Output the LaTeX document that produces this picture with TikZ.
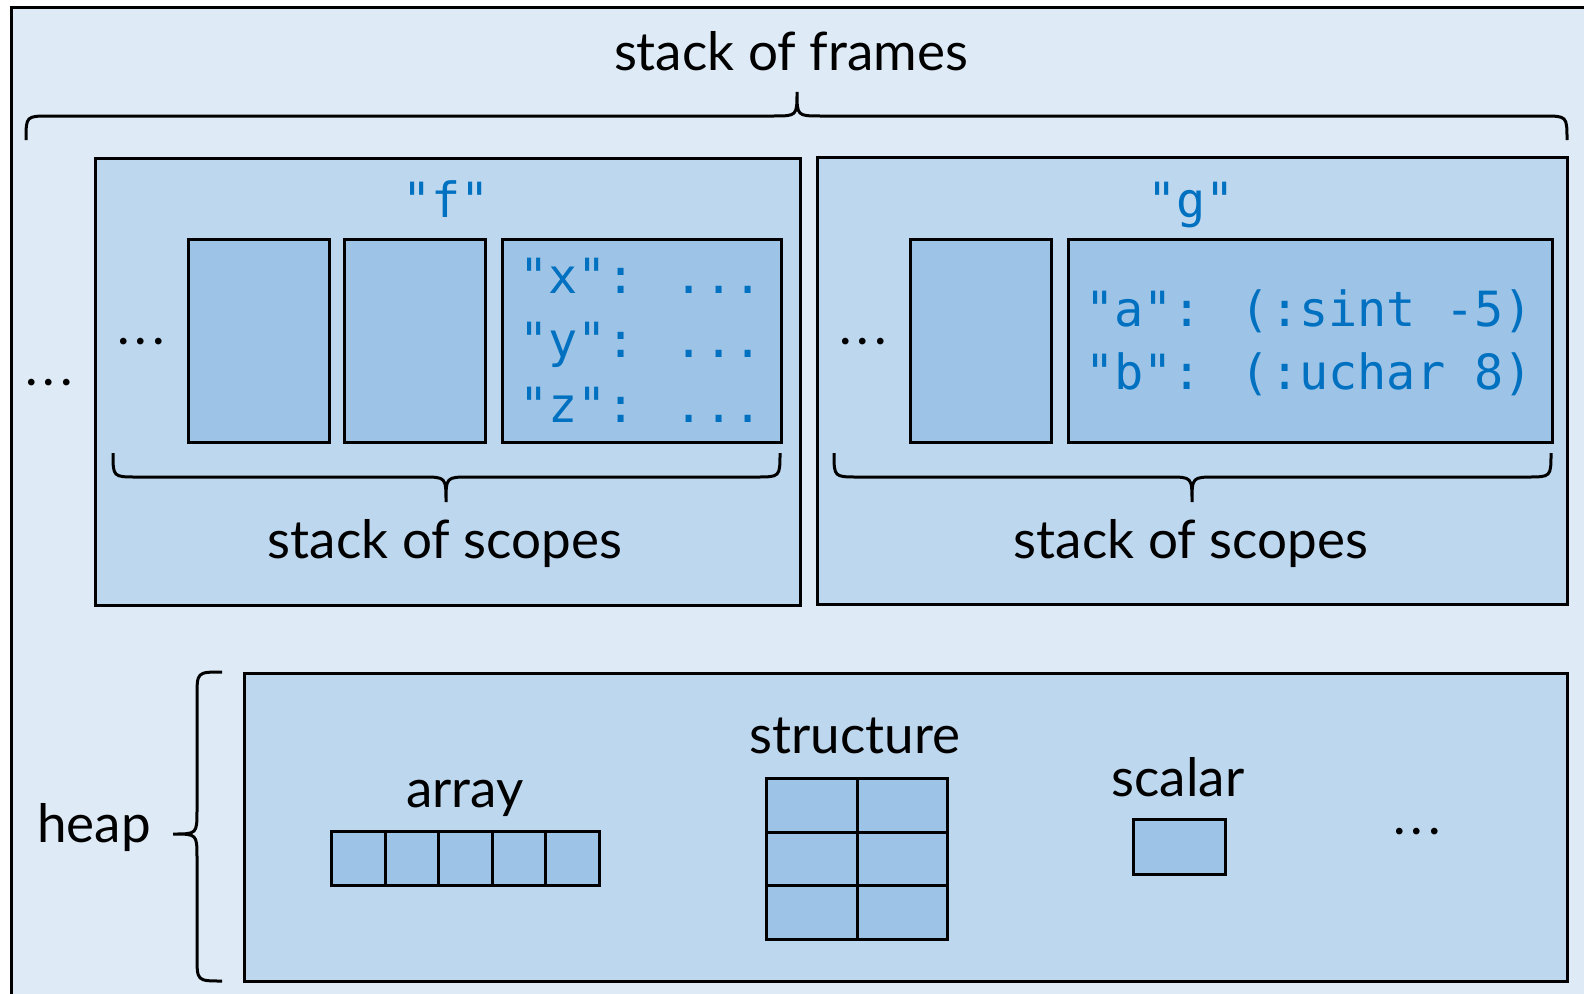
\documentclass[tikz,border=0pt]{standalone}
\usepackage{fontspec}
\setmainfont{Lato}
\newfontfamily\codefont{DejaVu Sans Mono}
\definecolor{bgc}{HTML}{DEEBF7}
\definecolor{framec}{HTML}{BDD7EE}
\definecolor{boxc}{HTML}{9DC3E6}
\definecolor{txtb}{HTML}{0070C0}
\newcommand{\mydots}{.\kern5pt.\kern5pt.}
\begin{document}
\begin{tikzpicture}[x=1pt,y=-1pt,
  framebox/.style={draw=black, fill=framec, line width=3pt, inner sep=0pt, anchor=north west},
  cellbox/.style={draw=black, fill=boxc, line width=3pt, inner sep=0pt, anchor=north west},
  lbl/.style={font=\fontsize{53}{64}\selectfont, text=black, inner sep=0pt, anchor=base},
  code/.style={font=\codefont\fontsize{48.5}{60}\selectfont, text=txtb, inner sep=0pt, anchor=base},
  codeline/.style={font=\codefont\fontsize{48.5}{60}\selectfont, text=txtb, inner sep=0pt, anchor=base west},
  bracepath/.style={draw=black, line width=3pt}]
\useasboundingbox (0,0) rectangle (1584,993);
\clip (0,0) rectangle (1584,993);
\fill[white] (0,0) rectangle (1584,993);
% outer area
\node[draw=black, fill=bgc, line width=3pt, inner sep=0pt, anchor=north west,
      minimum width=1700pt, minimum height=1100pt] (outer) at (10,6) {};
% top brace and label
\node[lbl] (sof) at (791,70) {stack of frames};
\draw[bracepath] (26,140) .. controls (26,116) .. (50,116) -- (773,116)
  .. controls (797,116) .. (797,92) .. controls (797,116) .. (821,116)
  -- (1543,116) .. controls (1567,116) .. (1567,140);
\node[lbl] (dots0) at (49,385) {\mydots};
% frame f
\node[framebox, minimum width=705pt, minimum height=447pt] (fF) at (94,157) {};
\node[code] (fname) at (446,217) {"f"};
\node[lbl] (fdots) at (141,344) {\mydots};
\node[cellbox, minimum width=141pt, minimum height=203pt] (f1) at (187,238) {};
\node[cellbox, minimum width=141pt, minimum height=203pt] (f2) at (343,238) {};
\node[cellbox, minimum width=279pt, minimum height=203pt] (f3) at (501,238) {};
\node[codeline] (fx) at (519,293) {"x": ...};
\node[codeline] (fy) at (519,357) {"y": ...};
\node[codeline] (fz) at (519,422) {"z": ...};
\draw[bracepath] (113,453) .. controls (113,477) .. (137,477) -- (422,477)
  .. controls (446,477) .. (446,502) .. controls (446,477) .. (470,477)
  -- (756,477) .. controls (780,477) .. (780,453);
\node[lbl] (fsos) at (445,558) {stack of scopes};
% frame g
\node[framebox, minimum width=750pt, minimum height=447pt] (gF) at (816,156) {};
\node[code] (gname) at (1191,217) {"g"};
\node[lbl] (gdots) at (863,344) {\mydots};
\node[cellbox, minimum width=141pt, minimum height=203pt] (g1) at (909,238) {};
\node[cellbox, minimum width=484pt, minimum height=203pt] (g2) at (1067,238) {};
\node[codeline] (ga) at (1085,326) {"a": (:sint -5)};
\node[codeline] (gb) at (1085,389) {"b": (:uchar 8)};
\draw[bracepath] (834,453) .. controls (834,477) .. (858,477) -- (1168,477)
  .. controls (1192,477) .. (1192,502) .. controls (1192,477) .. (1216,477)
  -- (1527,477) .. controls (1551,477) .. (1551,453);
\node[lbl] (gsos) at (1191,558) {stack of scopes};
% heap
\node[lbl] (heapl) at (94,842) {heap};
\draw[bracepath] (222,672) .. controls (197,672) .. (197,697) -- (197,810)
  .. controls (197,834) .. (173,834) .. controls (197,834) .. (197,858)
  -- (197,956) .. controls (197,981) .. (222,981);
\node[framebox, minimum width=1323pt, minimum height=308pt] (heap) at (243,672) {};
% array
\node[lbl] (arrl) at (465,807) {array};
\foreach \i in {0,...,4} {
  \node[cellbox, minimum width=53.6pt, minimum height=54pt] (a\i) at (330+53.6*\i,830) {};
}
% structure
\node[lbl] (strl) at (855,753) {structure};
\foreach \r in {0,1,2} {
  \foreach \c in {0,1} {
    \node[cellbox, minimum width=90.5pt, minimum height=53.7pt] (s\r\c) at (765+90.5*\c,777+53.7*\r) {};
  }
}
% scalar
\node[lbl] (scal) at (1178,796) {scalar};
\node[cellbox, minimum width=92pt, minimum height=55pt] (sc) at (1132,818) {};
\node[lbl] (hdots) at (1417,834) {\mydots};
\end{tikzpicture}
\end{document}
